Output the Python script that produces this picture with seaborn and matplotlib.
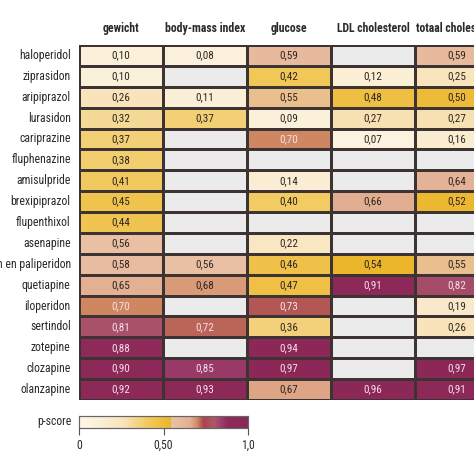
import numpy as np
import pandas as pd
import seaborn as sns
import matplotlib
matplotlib.use("Agg")
import matplotlib.pyplot as plt
from matplotlib import font_manager as fm
from matplotlib.colors import LinearSegmentedColormap

# ---- data ----
middelen = ["haloperidol", "ziprasidon", "aripiprazol", "lurasidon", "cariprazine",
            "fluphenazine", "amisulpride", "brexipiprazol", "flupenthixol", "asenapine",
            "risperidon en paliperidon", "quetiapine", "iloperidon", "sertindol",
            "zotepine", "clozapine", "olanzapine"]
uitkomsten = ["gewicht", "body-mass index", "glucose", "LDL cholesterol", "totaal cholesterol"]
nan = np.nan
gewicht = [0.10, 0.10, 0.26, 0.32, 0.37, 0.38, 0.41, 0.45, 0.44, 0.56, 0.58, 0.65, 0.70, 0.81, 0.88, 0.90, 0.92]
bmi = [0.08, nan, 0.11, 0.37, nan, nan, nan, nan, nan, nan, 0.56, 0.68, nan, 0.72, nan, 0.85, 0.93]
glucose = [0.59, 0.42, 0.55, 0.09, 0.70, nan, 0.14, 0.40, nan, 0.22, 0.46, 0.47, 0.73, 0.36, 0.94, 0.97, 0.67]
ldl = [nan, 0.12, 0.48, 0.27, 0.07, nan, nan, 0.66, nan, nan, 0.54, 0.91, nan, nan, nan, nan, 0.96]
totaal = [0.59, 0.25, 0.50, 0.27, 0.16, nan, 0.64, 0.52, nan, nan, 0.55, 0.82, 0.19, 0.26, nan, 0.97, 0.91]
cbar_ticks = [0, 0.5, 1.0]
cbar_ticklabels = ["0", "0,50", "1,0"]

df = pd.DataFrame({"gewicht": gewicht, "body-mass index": bmi, "glucose": glucose,
                   "LDL cholesterol": ldl, "totaal cholesterol": totaal}, index=middelen)[uitkomsten]
labels = df.map(lambda v: "" if pd.isna(v) else f"{v:.2f}".replace(".", ","))

# ---- style ----
sns.set_style("white")
names = {f.name for f in fm.fontManager.ttflist}
narrow = next((n for n in ["Liberation Sans Narrow", "Roboto Condensed", "Open Sans Condensed",
                           "Lato", "Roboto"] if n in names), "DejaVu Sans")
plt.rcParams["font.family"] = [narrow, "DejaVu Sans"]

cmap = LinearSegmentedColormap.from_list("pscore", [
    (0.00, "#fdf7eb"), (0.25, "#f8e5bf"), (0.42, "#f1c757"), (0.545, "#ebb52a"),
    (0.55, "#eac2a6"), (0.66, "#e2ae92"), (0.70, "#d08a62"), (0.74, "#a9444f"),
    (0.80, "#ad5867"), (0.845, "#9b3c6b"), (0.88, "#8e2a5a"), (1.00, "#8b2757")])
cmap.set_bad("#ebebeb")

fig = plt.figure(figsize=(4.74, 4.74), dpi=100)
W = H = 474.0
ax = fig.add_axes([79 / W, 1 - 400 / H, 420 / W, 355 / H])
cax = fig.add_axes([79 / W, 1 - 428 / H, 169 / W, 12 / H])

sns.heatmap(df, ax=ax, cmap=cmap, vmin=0, vmax=1, annot=labels, fmt="",
            linewidths=0.8, linecolor="#3d3333",
            annot_kws={"fontsize": 8},
            cbar_ax=cax, cbar_kws={"orientation": "horizontal", "ticks": cbar_ticks})

vals = df.values
for t in ax.texts:
    x, y = t.get_position()
    v = vals[int(y), int(x)]
    if not np.isnan(v):
        t.set_color("#f8dde9" if v >= 0.695 else "#2e2622")

ax.xaxis.tick_top()
ax.tick_params(axis="both", length=0)
ax.tick_params(axis="x", pad=7)
ax.tick_params(axis="y", pad=6)
ax.set_xticklabels(uitkomsten, fontsize=8.5, fontweight="bold", color="#2a2a2a", rotation=0)
ax.set_yticklabels(middelen, fontsize=8.5, color="#2a2a2a", rotation=0)
ax.set_xlabel("")
ax.set_ylabel("")

cax.tick_params(axis="x", length=5, width=0.8, color="#555555", labelsize=8.5, pad=3)
cax.set_xticklabels(cbar_ticklabels, color="#2a2a2a")
for s in cax.spines.values():
    s.set_visible(True)
    s.set_color("#666666")
    s.set_linewidth(0.8)
fig.text(72 / W, 1 - 422 / H, "p-score", ha="right", va="center", fontsize=8.5, color="#2a2a2a")

fig.savefig("out.png", dpi=100)
